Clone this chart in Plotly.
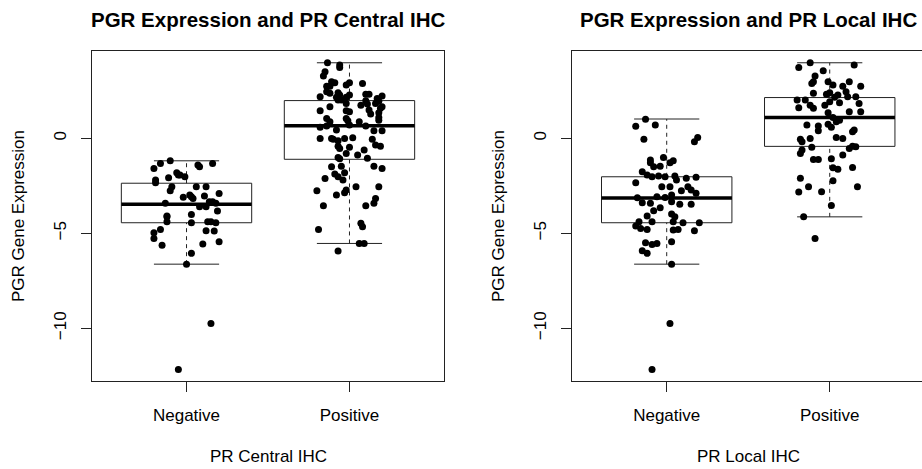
import plotly.graph_objects as go

# ---------------- data ----------------
categories = ["Negative", "Positive"]
y_tick_vals = [-10, -5, 0]
panel_titles = ["PGR Expression and PR Central IHC", "PGR Expression and PR Local IHC"]
x_titles = ["PR Central IHC", "PR Local IHC"]
y_title = "PGR Gene Expression"

# box statistics: [lower whisker, Q1, median, Q3, upper whisker]
central_neg_stats = [-6.62, -4.44, -3.46, -2.36, -1.18]
central_pos_stats = [-5.53, -1.10, 0.66, 1.99, 3.98]
local_neg_stats = [-6.62, -4.44, -3.14, -2.02, 1.02]
local_pos_stats = [-4.13, -0.42, 1.10, 2.15, 3.98]

# jittered points (x = jittered group position, y = expression)
central_neg_x = [0.90, 0.84, 0.80, 1.07, 1.08, 1.16, 0.94, 0.95, 0.96, 0.99, 0.89, 0.81, 0.81,
                 0.91, 0.90, 1.06, 1.12, 0.98, 1.02, 1.03, 1.04, 1.11, 1.20, 0.87, 1.08, 1.12,
                 1.16, 1.18, 1.14, 1.19, 1.03, 0.88, 0.88, 0.88, 1.03, 1.13, 1.15, 1.18, 0.80,
                 0.84, 1.12, 1.17, 0.80, 0.85, 1.20, 1.10, 1.03, 1.00, 1.15, 0.95]
central_neg_y = [-1.18, -1.32, -1.58, -1.40, -1.49, -1.32, -1.81, -1.93, -1.93, -2.02, -2.07, -2.19, -2.34,
                 -2.54, -2.75, -2.54, -2.54, -3.10, -2.98, -3.07, -3.16, -3.03, -2.90, -3.42, -3.60, -3.60,
                 -3.33, -3.42, -3.33, -3.82, -4.00, -4.12, -4.08, -4.39, -4.44, -4.39, -4.39, -4.44, -4.97,
                 -4.79, -4.86, -4.88, -5.27, -5.62, -5.44, -5.56, -6.05, -6.62, -9.74, -12.16]

central_pos_x = [1.865, 1.94, 1.94, 1.85, 1.84, 1.89, 1.91, 1.86, 1.88, 2.00, 1.98, 2.08, 1.86, 1.88,
                 1.93, 1.94, 1.92, 1.82, 2.00, 1.98, 2.10, 2.12, 2.20, 2.17, 1.93, 1.95, 1.98, 2.07,
                 2.11, 2.10, 2.18, 2.16, 2.20, 2.19, 1.82, 1.88, 1.98, 2.00, 2.12, 2.13, 2.18, 1.86,
                 1.88, 1.86, 1.82, 1.98, 1.99, 2.00, 2.06, 2.10, 2.18, 2.18, 1.92, 2.15, 2.20, 1.82,
                 1.89, 1.90, 1.93, 1.97, 2.02, 2.14, 2.16, 2.19, 1.93, 1.94, 2.00, 1.98, 2.09, 2.05,
                 2.11, 1.93, 1.94, 1.89, 1.95, 2.15, 2.20, 1.91, 1.93, 1.97, 1.96, 1.85, 1.80, 1.92,
                 1.97, 1.98, 2.04, 2.18, 1.84, 2.10, 2.15, 2.16, 1.81, 2.07, 2.08, 2.06, 2.09, 1.93]
central_pos_y = [3.98, 3.86, 3.73, 3.51, 3.28, 2.98, 2.93, 2.75, 2.75, 2.93, 2.81, 2.89, 2.45, 2.37,
                 2.40, 2.28, 2.16, 2.19, 2.28, 2.16, 2.33, 2.33, 2.23, 2.10, 2.02, 2.02, 1.84, 1.75,
                 1.81, 1.98, 1.96, 1.84, 1.66, 1.58, 1.45, 1.66, 1.45, 1.40, 1.49, 1.28, 1.35, 1.05,
                 0.88, 0.65, 0.58, 1.05, 0.93, 0.70, 0.88, 0.65, 1.10, 0.96, 0.44, 0.40, 0.40, 0.00,
                 0.00, -0.05, -0.12, 0.00, 0.03, -0.05, -0.35, -0.41, -0.41, -0.53, -0.47, -0.79, -0.61, -0.88,
                 -1.05, -1.00, -1.07, -1.49, -1.46, -1.46, -1.58, -1.88, -2.02, -1.81, -2.19, -2.11, -2.76, -2.98,
                 -2.86, -2.72, -2.54, -2.54, -3.54, -3.54, -3.42, -3.16, -4.79, -4.47, -4.65, -5.53, -5.53, -5.93]

local_neg_x = [0.87, 0.81, 0.93, 0.86, 1.19, 1.17, 0.98, 0.90, 0.90, 1.04, 1.02, 0.96, 0.92, 0.85,
               0.88, 0.91, 0.95, 0.99, 1.05, 1.06, 1.12, 1.18, 0.81, 0.97, 1.02, 1.09, 1.13, 1.15,
               1.18, 0.82, 0.85, 0.90, 0.94, 0.99, 1.03, 1.03, 1.08, 1.15, 0.92, 0.96, 0.88, 1.03,
               1.05, 0.83, 0.91, 1.04, 1.10, 1.20, 0.81, 0.84, 0.88, 1.04, 1.07, 1.17, 0.87, 0.91,
               0.94, 1.03, 0.85, 0.88, 1.03, 1.02, 0.91]
local_neg_y = [1.01, 0.64, 0.70, -0.04, 0.05, -0.18, -1.00, -1.14, -1.28, -1.18, -1.28, -1.46, -1.49, -1.75,
               -1.93, -2.02, -1.98, -2.02, -1.98, -2.19, -2.10, -2.05, -2.33, -2.54, -2.54, -2.75, -2.54, -2.72,
               -2.89, -3.13, -3.39, -3.42, -3.07, -3.11, -2.98, -3.33, -3.46, -3.46, -3.81, -3.65, -4.09, -3.98,
               -4.12, -4.39, -4.39, -4.39, -4.44, -4.44, -4.61, -4.74, -4.79, -4.82, -4.79, -4.86, -5.49, -5.58,
               -5.53, -5.44, -5.92, -6.05, -6.62, -9.74, -12.16]

local_pos_x = [1.88, 2.15, 1.81, 1.96, 1.91, 1.90, 1.89, 1.99, 2.02, 2.08, 2.12, 2.19, 1.90, 1.98,
               2.00, 2.05, 2.03, 2.10, 2.16, 1.80, 1.85, 1.88, 1.90, 1.81, 1.97, 2.00, 2.06, 2.11,
               2.18, 2.19, 2.12, 1.99, 2.02, 2.06, 2.04, 1.99, 2.01, 1.86, 1.93, 1.93, 1.88, 2.04,
               2.08, 1.82, 1.83, 2.15, 2.14, 2.14, 2.16, 2.12, 1.89, 1.82, 1.83, 2.08, 1.90, 1.93,
               2.01, 2.02, 2.05, 2.14, 1.82, 1.87, 1.81, 1.95, 2.02, 2.17, 2.01, 1.84, 1.91]
local_pos_y = [3.98, 3.86, 3.73, 3.56, 3.28, 2.98, 2.89, 2.98, 2.81, 2.75, 2.98, 2.75, 2.37, 2.33,
               2.40, 2.28, 2.16, 2.45, 2.19, 2.02, 2.02, 1.75, 1.58, 1.61, 1.75, 1.93, 1.87, 2.19,
               1.84, 1.40, 1.40, 1.35, 1.10, 0.96, 0.88, 0.75, 0.58, 0.70, 0.65, 0.40, 0.00, 0.05,
               0.00, -0.05, -0.18, 0.44, 0.35, -0.41, -0.44, -0.53, -0.47, -0.79, -0.61, -0.88, -1.11, -1.11,
               -1.07, -1.55, -1.62, -1.53, -2.10, -2.54, -2.82, -2.81, -2.23, -2.54, -3.53, -4.13, -5.27]

# ---------------- figure ----------------
W, H = 922, 469
FONT = "Liberation Sans, Arial, Helvetica, sans-serif"
LINE = "#222222"

panels = [
    dict(xa="x", ya="y", groups=[(central_neg_stats, central_neg_x, central_neg_y),
                                 (central_pos_stats, central_pos_x, central_pos_y)]),
    dict(xa="x2", ya="y2", groups=[(local_neg_stats, local_neg_x, local_neg_y),
                                   (local_pos_stats, local_pos_x, local_pos_y)]),
]

fig = go.Figure()


def seg(xs, ys, xa, ya, width=1, dash="solid", color=LINE):
    fig.add_trace(go.Scatter(x=xs, y=ys, xaxis=xa, yaxis=ya, mode="lines",
                             line=dict(color=color, width=width, dash=dash),
                             hoverinfo="skip", showlegend=False))


for p in panels:
    xa, ya = p["xa"], p["ya"]
    for i, (stats, px, py) in enumerate(p["groups"]):
        pos = i + 1
        lw, q1, med, q3, uw = stats
        hw, cw = 0.4, 0.2
        seg([pos, pos], [lw, q1], xa, ya, dash="4px,4px")
        seg([pos, pos], [q3, uw], xa, ya, dash="4px,4px")
        seg([pos - cw, pos + cw], [lw, lw], xa, ya)
        seg([pos - cw, pos + cw], [uw, uw], xa, ya)
        seg([pos - hw, pos + hw, pos + hw, pos - hw, pos - hw], [q1, q1, q3, q3, q1], xa, ya)
        seg([pos - hw, pos + hw], [med, med], xa, ya, width=3.5, color="black")
    for i, (stats, px, py) in enumerate(p["groups"]):
        fig.add_trace(go.Scatter(x=px, y=py, xaxis=xa, yaxis=ya, mode="markers",
                                 marker=dict(color="black", size=7, line=dict(width=0)),
                                 showlegend=False, hoverinfo="skip"))

ydom = [1 - 381 / H, 1 - 51 / H]
yrange = [-12.77, 4.60]

common_x = dict(tickvals=[1, 2], ticktext=categories, ticks="outside", ticklen=10,
                tickcolor=LINE, showline=True, linecolor=LINE, linewidth=1, mirror=True,
                showgrid=False, zeroline=False, tickfont=dict(family=FONT, size=17, color="black"),
                ticklabelstandoff=9)
common_y = dict(tickvals=y_tick_vals, range=yrange, ticks="outside", ticklen=10, tickcolor=LINE,
                showline=True, linecolor=LINE, linewidth=1, showgrid=False, zeroline=False,
                tickangle=-90, tickfont=dict(family=FONT, size=17, color="black"),
                ticklabelstandoff=8)

fig.update_layout(
    width=W, height=H, margin=dict(l=0, r=0, t=0, b=0),
    paper_bgcolor="white", plot_bgcolor="white", showlegend=False,
    xaxis=dict(domain=[92 / W, 444 / W], range=[0.42, 2.58], anchor="y", **common_x),
    yaxis=dict(domain=ydom, anchor="x", mirror=True, **common_y),
    xaxis2=dict(domain=[572 / W, 1.0], range=[0.419, 2.566], anchor="y2", **common_x),
    yaxis2=dict(domain=ydom, anchor="x2", mirror=False, **common_y),
)

ann = []
for k, (cx, ylab_x) in enumerate([(268, 18), (748, 498)]):
    ann.append(dict(text="<b>" + panel_titles[k] + "</b>", x=cx / W, y=1 - 20 / H,
                    xref="paper", yref="paper", showarrow=False, xanchor="center", yanchor="middle",
                    font=dict(family=FONT, size=20.5, color="black")))
    ann.append(dict(text=x_titles[k], x=cx / W, y=1 - 456 / H,
                    xref="paper", yref="paper", showarrow=False, xanchor="center", yanchor="middle",
                    font=dict(family=FONT, size=17, color="black")))
    ann.append(dict(text=y_title, x=ylab_x / W, y=1 - 216 / H, textangle=-90,
                    xref="paper", yref="paper", showarrow=False, xanchor="center", yanchor="middle",
                    font=dict(family=FONT, size=17, color="black")))
fig.update_layout(annotations=ann)

fig.write_html("out.html")
